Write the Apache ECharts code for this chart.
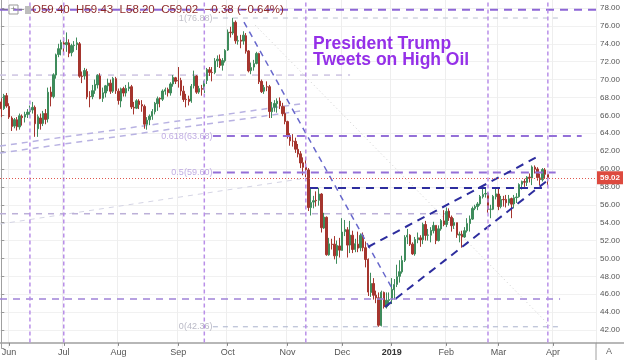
<!DOCTYPE html>
<html><head><meta charset="utf-8">
<script src="https://cdn.jsdelivr.net/npm/echarts@6/dist/echarts.min.js"></script>
<style>html,body{margin:0;padding:0;background:#fff}#c{width:624px;height:360px}</style>
</head><body><div id="c"></div>
<script>
// ---- data: daily WTI candles [open, high, low, close], 2018-05-29 .. 2019-03-28 ----
const bars = [
// May 29 - 31
[67.50,67.90,65.80,66.73],[66.75,68.40,66.60,68.21],[68.20,68.50,66.85,67.04],
// June
[67.00,67.35,65.60,65.81],[65.70,65.90,64.25,64.75],[64.80,65.70,64.55,65.52],[65.50,65.80,64.30,64.73],[64.70,66.20,64.40,65.95],[65.90,66.10,64.85,65.74],[65.80,66.40,65.20,66.10],[66.10,66.70,65.70,66.36],[66.40,67.10,66.00,66.64],[66.60,67.50,66.20,66.89],[66.90,67.10,63.60,65.06],[64.50,66.10,63.59,65.85],[65.70,66.20,64.40,65.07],[65.10,66.50,64.80,66.22],[66.20,66.70,65.00,65.54],[65.60,69.10,65.20,68.58],[68.60,69.20,67.00,68.08],[68.10,70.70,67.90,70.53],[70.50,72.90,70.10,72.76],[72.80,74.00,72.50,73.45],[73.40,74.45,72.70,74.15],
// July
[74.10,74.70,72.90,73.94],[73.90,75.27,73.10,74.14],[74.10,74.50,72.50,72.94],[73.00,74.00,72.60,73.80],[73.80,74.30,73.10,73.85],[73.90,74.70,73.30,74.11],[74.00,74.20,70.20,70.38],[70.40,70.90,69.60,70.33],[70.40,71.30,70.00,71.01],[70.90,71.20,67.80,68.06],[68.10,68.70,66.90,68.08],[68.10,69.40,67.80,68.76],[68.80,70.00,68.40,69.46],[69.40,70.60,69.00,70.46],[70.40,70.70,67.80,67.89],[67.90,69.10,67.50,68.52],[68.50,69.40,68.00,69.30],[69.30,70.10,68.70,69.61],[69.60,70.00,68.40,68.69],[68.70,70.30,68.50,70.13],[70.10,70.30,68.40,68.76],
// August
[68.70,69.00,67.20,67.66],[67.60,69.10,66.90,68.96],[69.00,69.20,68.10,68.49],[68.50,69.40,68.10,69.01],[69.00,69.70,68.70,69.17],[69.20,69.40,66.70,66.94],[66.90,67.50,66.10,66.81],[66.80,67.80,66.70,67.63],[67.60,67.80,66.70,67.20],[67.20,67.70,66.40,67.04],[67.00,67.20,64.50,65.01],[65.00,65.80,64.40,65.46],[65.50,66.10,64.90,65.91],[65.90,66.70,65.50,66.43],[66.40,67.50,66.10,67.35],[67.30,68.10,66.50,67.86],[67.90,68.00,66.90,67.83],[67.80,68.90,67.60,68.72],[68.70,69.10,68.30,68.87],[68.90,69.10,68.10,68.53],[68.50,69.70,68.20,69.51],[69.50,70.50,69.20,70.25],[70.20,70.30,69.50,69.80],
// September
[69.90,71.40,69.10,69.87],[69.90,70.20,68.20,68.72],[68.70,69.30,67.50,67.77],[67.80,68.40,66.90,67.75],[67.80,68.20,67.10,67.54],[67.60,69.50,67.40,69.25],[69.30,71.00,69.00,70.37],[70.40,70.50,68.40,68.59],[68.60,69.30,68.40,68.99],[69.00,69.40,68.20,68.91],[68.90,70.00,68.50,69.85],[69.90,71.30,69.50,71.12],[71.10,71.40,70.40,70.80],[70.80,71.40,69.80,70.78],[70.80,72.40,70.60,72.08],[72.10,72.70,71.40,72.28],[72.30,72.80,71.30,71.57],[71.60,72.40,71.00,72.12],[72.10,73.40,71.90,73.25],
// October
[73.30,75.60,73.20,75.30],[75.30,75.90,74.70,75.23],[75.20,76.90,75.00,76.41],[76.40,76.60,74.00,74.33],[74.30,74.90,73.90,74.34],[74.40,75.00,73.50,74.29],[74.30,75.40,73.90,74.96],[74.90,75.20,72.90,73.17],[73.20,73.30,70.80,70.97],[71.00,71.90,70.60,71.34],[71.40,72.20,71.00,71.78],[71.80,73.10,71.70,72.92],[72.90,73.00,69.50,69.75],[69.80,70.00,68.50,68.65],[68.70,69.40,68.40,69.12],[69.20,69.80,68.70,69.17],[69.20,69.40,65.70,66.43],[66.40,67.50,65.70,66.82],[66.90,67.70,66.40,67.33],[67.30,67.90,66.30,67.59],[67.60,68.00,66.70,67.04],[67.00,67.40,65.90,66.18],[66.20,67.00,65.00,65.31],
// November
[65.30,65.40,63.40,63.69],[63.70,64.00,62.60,63.14],[63.10,63.90,62.50,63.10],[63.10,63.50,61.80,62.21],[62.20,62.80,61.30,61.67],[61.70,62.00,60.10,60.67],[60.70,61.30,59.30,60.19],[60.20,61.30,59.10,59.93],[59.90,60.10,55.30,55.69],[55.70,57.90,54.80,56.25],[56.30,57.00,55.60,56.46],[56.50,57.50,55.80,56.46],[56.50,57.90,55.90,57.20],[57.20,57.30,52.90,53.43],[53.40,55.10,53.30,54.63],[54.60,54.70,50.30,50.42],[50.40,52.30,50.30,51.63],[51.60,52.20,51.00,51.56],[51.60,52.50,49.90,50.29],[50.30,52.00,49.40,51.45],[51.40,52.30,50.10,50.93],
// December
[50.90,54.50,50.90,52.95],[53.00,54.30,52.50,53.25],[53.20,53.50,50.10,51.49],[51.50,54.20,50.60,52.61],[52.60,53.10,50.60,51.00],[51.00,52.20,50.70,51.65],[51.60,53.00,50.70,51.15],[51.20,52.80,50.80,52.58],[52.60,52.90,50.80,51.20],[51.20,51.90,49.00,49.88],[49.90,50.00,45.80,46.24],[46.20,48.40,45.70,47.20],[47.20,47.80,45.40,45.88],[45.90,46.40,45.00,45.59],[45.60,46.20,42.36,42.53],[42.50,46.40,42.40,46.22],[46.20,46.30,44.40,44.61],[44.60,46.20,44.40,45.33],[45.30,46.20,44.70,45.41],
// January 2019
[45.40,47.80,44.90,46.54],[46.50,47.70,45.40,47.09],[47.10,49.30,46.80,47.96],[48.00,49.80,47.30,48.52],[48.50,50.30,48.30,49.78],[49.80,52.60,49.60,52.36],[52.40,53.30,51.60,52.59],[52.60,52.70,51.40,51.59],[51.60,51.80,50.40,50.51],[50.50,52.40,50.30,52.11],[52.10,52.90,51.70,52.31],[52.30,52.60,51.30,52.07],[52.10,54.00,51.60,53.80],[53.80,54.20,52.00,52.57],[52.60,53.30,52.00,52.62],[52.60,53.50,51.80,53.13],[53.10,54.10,52.80,53.69],[53.70,53.70,51.60,51.99],[52.00,53.70,51.90,53.31],[53.30,54.40,53.10,54.23],[54.20,55.40,53.60,53.79],
// February
[53.80,55.70,53.50,55.26],[55.30,55.60,54.20,54.56],[54.60,54.80,53.00,53.66],[53.70,54.50,53.30,54.01],[54.00,54.00,52.30,52.64],[52.60,53.00,51.80,52.72],[52.70,53.10,51.20,52.41],[52.40,53.50,52.30,53.10],[53.10,54.50,52.90,53.90],[53.90,54.80,53.00,54.41],[54.40,55.80,54.30,55.59],[55.60,56.00,55.40,55.80],[55.80,56.30,55.40,56.09],[56.10,57.10,55.90,56.92],[56.90,57.80,56.70,57.16],[57.20,57.80,56.80,57.26],[57.30,57.40,55.10,55.48],[55.50,56.00,54.50,55.50],[55.50,57.10,55.40,56.94],[56.90,57.80,56.60,57.22],
// March
[57.20,57.90,55.40,55.80],[55.80,57.00,55.60,56.59],[56.60,57.00,55.80,56.56],[56.60,57.10,55.70,56.22],[56.20,57.10,55.90,56.66],[56.70,56.80,54.50,56.07],[56.10,57.10,55.60,56.79],[56.80,57.30,56.20,56.87],[56.90,58.40,56.80,58.26],[58.30,58.70,57.70,58.61],[58.60,58.90,58.00,58.52],[58.50,59.20,58.10,59.09],[59.10,59.50,58.50,59.03],[59.00,60.40,58.20,60.23],[60.20,60.40,59.50,59.98],[60.00,60.20,58.70,59.04],[59.00,59.50,58.20,58.82],[58.80,60.10,58.60,59.94],[59.90,60.10,58.90,59.41],[59.40,59.43,58.20,59.02]
];
const firstDate = [2018, 4, 29];
const totalSlots = 229;
const holidays = ['2018-07-04','2018-09-03','2018-11-22','2018-12-05','2018-12-25','2019-01-01','2019-01-21','2019-04-19'];
const monthNames = ['Jan','Feb','Mar','Apr','May','Jun','Jul','Aug','Sep','Oct','Nov','Dec'];
const lastQuote = {o:59.40, h:59.43, l:58.20, c:59.02, chg:-0.38, pct:-0.64};
const yTicks = {min:40, max:80, step:2};
// annotations (bar index, price)
const tweetBars = [11, 24, 78, 117, 187, 210];
const fibRatios = ['1', '0.618', '0.5', '0'];
const fibValues = [76.88, 63.68, 59.60, 42.36];
const fibSpans = [[81.3, 215], [81.3, 223], [81.3, 213], [81.3, 215]];
const levelValues = [77.8, 70.5, 57.87, 55.0, 45.46];
const levelSpans = [[-0.5, 228.5], [-0.5, 134], [118.6, 210.1], [-0.5, 178.2], [-0.5, 214.7]];
const fallLine = [[93.25, 76.43], [150.5, 46.47]];
const upperChannel = [[140.9, 51.28], [205.8, 61.34]];
const lowerChannel = [[147.4, 44.57], [210.1, 58.77]];
const peakRay = [[97.5, 76.1], [210.8, 42.45]];
const fanA = [[-0.5, 62.57], [114.8, 67.27]];
const fanB = [[-0.5, 61.79], [114.8, 66.48]];
const fanC = [[-0.5, 53.85], [114.8, 58.88]];
const titleLines = ['President Trump', 'Tweets on High Oil'];

// ---- build categories ----
function buildDates() {
  const out = [];
  const d = new Date(Date.UTC(firstDate[0], firstDate[1], firstDate[2]));
  while (out.length < totalSlots) {
    const dow = d.getUTCDay();
    const s = d.toISOString().slice(0, 10);
    if (dow !== 0 && dow !== 6 && holidays.indexOf(s) < 0) out.push(s);
    d.setUTCDate(d.getUTCDate() + 1);
  }
  return out;
}
const dates = buildDates();
const monthStart = new Set();
for (let i = 1; i < dates.length; i++) {
  if (dates[i].slice(5, 7) !== dates[i - 1].slice(5, 7)) monthStart.add(i);
}
const isMonth = (i) => monthStart.has(i);

const FONT = '"Liberation Sans", Arial, sans-serif';
const nLines = (yTicks.max - yTicks.min) / yTicks.step + 1;
const splitColors = [];
for (let i = 0; i < nLines; i++) splitColors.push(i === 0 ? 'rgba(0,0,0,0)' : '#f1f1f1');

const series = [];
series.push({
  type: 'candlestick', xAxisIndex: 0, yAxisIndex: 0, z: 2,
  data: bars.map(b => [b[0], b[3], b[2], b[1]]),
  barWidth: '72%',
  itemStyle: { color: '#3f8c5c', color0: '#a5352e', borderColor: '#3f8c5c', borderColor0: '#a5352e', borderWidth: 1 },
  markLine: {
    silent: true, symbol: ['none', 'none'], animation: false,
    lineStyle: { color: '#e0574e', type: [1, 2], width: 1 },
    label: { show: true, position: 'end', distance: 1, formatter: lastQuote.c.toFixed(2),
      backgroundColor: '#dd4a3f', color: '#fff', fontSize: 8, fontWeight: 'bold', fontFamily: FONT, padding: [3, 3, 2, 3] },
    data: [{ yAxis: lastQuote.c }]
  }
});
function seg(pts, style, z) {
  series.push({ type: 'line', xAxisIndex: 1, yAxisIndex: 0, data: pts, symbol: 'none', silent: true,
    animation: false, z: z == null ? 3 : z, lineStyle: style });
}
// faint fan lines
seg(fanA, { color: '#b8b2e2', width: 1.5, type: [6, 5] }, 1);
seg(fanB, { color: '#b8b2e2', width: 1.5, type: [6, 5] }, 1);
seg(fanC, { color: '#d4d4e4', width: 1, type: [5, 5] }, 1);
seg(peakRay, { color: '#cfcfcf', width: 1, type: [1, 3] }, 1);
// horizontal levels
const levelStyles = [
  { color: '#8d66d6', width: 2, type: [8, 6] },
  { color: '#cdc3e2', width: 1.5, type: [6, 6] },
  { color: '#2d2d9e', width: 2, type: [8, 6] },
  { color: '#bcb0d8', width: 1.5, type: [6, 6] },
  { color: '#a083d8', width: 1.5, type: [7, 6] }
];
levelValues.forEach((v, k) => seg([[levelSpans[k][0], v], [levelSpans[k][1], v]], levelStyles[k], k === 1 || k === 3 ? 1 : 3));
// fib levels
const fibStyles = [
  { color: '#b9bfd0', width: 1, type: [5, 5] },
  { color: '#9470d8', width: 2, type: [8, 6] },
  { color: '#9470d8', width: 2, type: [8, 6] },
  { color: '#a9b2cc', width: 1, type: [5, 5] }
];
const fibLabelColors = ['#b0b0bc', '#b097dc', '#b097dc', '#a8a8b8'];
fibValues.forEach((v, k) => seg([[fibSpans[k][0], v], [fibSpans[k][1], v]], fibStyles[k], 3));
series.push({
  type: 'scatter', xAxisIndex: 1, yAxisIndex: 0, symbolSize: 1, silent: true, z: 5,
  itemStyle: { color: 'rgba(0,0,0,0)' },
  data: fibValues.map((v, k) => ({
    value: [fibSpans[k][0], v],
    label: { show: true, position: 'left', distance: 0, formatter: fibRatios[k] + '(' + v.toFixed(2) + ')',
      color: fibLabelColors[k], fontSize: 9, fontFamily: FONT }
  }))
});
// trend lines
seg(fallLine, { color: '#6868cc', width: 1.5, type: [6, 5] }, 3);
seg(upperChannel, { color: '#2d2d9e', width: 2, type: [8, 6] }, 3);
seg(lowerChannel, { color: '#2d2d9e', width: 2, type: [8, 6] }, 3);
// tweet verticals
tweetBars.forEach(i => seg([[i, 40.6], [i, 80]], { color: '#b98fe8', width: 1.5, type: [4, 3] }, 3));

const hdr = 'O' + lastQuote.o.toFixed(2) + '  H' + lastQuote.h.toFixed(2) + '  L' + lastQuote.l.toFixed(2) +
  '  C' + lastQuote.c.toFixed(2) + '  ' + (lastQuote.chg < 0 ? '\u2212' : '+') + Math.abs(lastQuote.chg).toFixed(2) +
  ' (' + (lastQuote.pct < 0 ? '\u2212' : '+') + Math.abs(lastQuote.pct).toFixed(2) + '%)';

const chart = echarts.init(document.getElementById('c'), null, { renderer: 'canvas' });
chart.setOption({
  animation: false,
  backgroundColor: '#ffffff',
  grid: { left: 0, right: 28, top: -9.89, bottom: 12.11, containLabel: false, outerBoundsMode: 'none' },
  xAxis: [{
    type: 'category', data: dates, boundaryGap: true, offset: -5,
    axisLine: { show: true, lineStyle: { color: '#a0a0a0', width: 1.5 } },
    axisTick: { show: true, alignWithLabel: true, interval: isMonth, length: 3, lineStyle: { color: '#888' } },
    axisLabel: {
      interval: isMonth, color: '#555', fontSize: 9, fontFamily: FONT, margin: 5,
      formatter: (v) => { const m = +v.slice(5, 7) - 1; return m === 0 ? '{b|' + v.slice(0, 4) + '}' : monthNames[m]; },
      rich: { b: { fontWeight: 'bold', color: '#333', fontSize: 9, fontFamily: FONT } }
    },
    splitLine: { show: true, interval: isMonth, lineStyle: { color: '#eeeeee', width: 1 } }
  }, {
    type: 'value', min: -0.5, max: totalSlots - 0.5, show: false
  }],
  yAxis: {
    type: 'value', position: 'right', min: yTicks.min, max: yTicks.max, interval: yTicks.step,
    axisLine: { show: true, lineStyle: { color: '#a0a0a0', width: 1 } },
    axisTick: { show: true, length: 3, lineStyle: { color: '#999' } },
    axisLabel: { color: '#555', fontSize: 8, fontFamily: FONT, margin: 4,
      formatter: (v) => (v <= yTicks.min || v >= yTicks.max) ? '' : v.toFixed(2) },
    splitLine: { show: true, lineStyle: { color: splitColors, width: 1 } }
  },
  series: series,
  graphic: [
    { type: 'text', x: 2, y: 10, z: 100, style: { text: '\u2212', fill: '#777', font: '10px ' + FONT, verticalAlign: 'middle' } },
    { type: 'rect', x: 9, y: 5, z: 100, shape: { width: 9, height: 9 }, style: { fill: 'none', stroke: '#999', lineWidth: 1 } },
    { type: 'text', x: 13.5, y: 9.5, z: 100, style: { text: '+', fill: '#777', font: '9px ' + FONT, align: 'center', verticalAlign: 'middle' } },
    { type: 'text', x: 19, y: 10, z: 100, style: { text: '\u2212', fill: '#777', font: '10px ' + FONT, verticalAlign: 'middle' } },
    { type: 'rect', x: 25, y: 6, z: 100, shape: { width: 6, height: 8 }, style: { fill: '#bdbdbd' } },
    { type: 'text', x: 32, y: 10, z: 100, style: { text: hdr, fill: '#8e2b2b', font: '11.5px ' + FONT, verticalAlign: 'middle' } },
    { type: 'text', x: 313, y: 44, z: 100, style: { text: titleLines[0], fill: '#9530e8', font: 'bold 17.5px ' + FONT, verticalAlign: 'middle' } },
    { type: 'text', x: 313, y: 60, z: 100, style: { text: titleLines[1], fill: '#9530e8', font: 'bold 17.5px ' + FONT, verticalAlign: 'middle' } },
    { type: 'line', z: 100, shape: { x1: 596, y1: 343, x2: 596, y2: 360 }, style: { stroke: '#a0a0a0', lineWidth: 1 } },
    { type: 'line', z: 100, shape: { x1: 596, y1: 343, x2: 624, y2: 343 }, style: { stroke: '#a0a0a0', lineWidth: 1.5 } },
    { type: 'text', x: 609, y: 352, z: 100, style: { text: 'A', fill: '#666', font: '9px ' + FONT, align: 'center', verticalAlign: 'middle' } }
  ]
});
</script></body></html>
